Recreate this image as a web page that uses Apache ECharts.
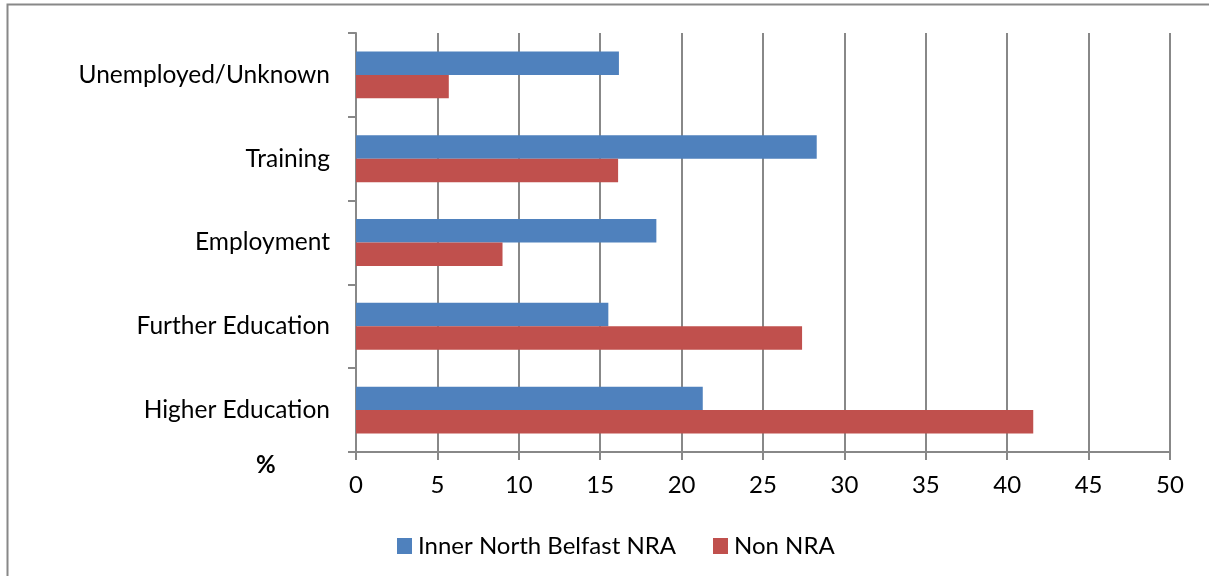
<!DOCTYPE html>
<html>
<head>
<meta charset="utf-8">
<script src="https://cdn.jsdelivr.net/npm/echarts@6/dist/echarts.min.js"></script>
<style>
  html, body { margin: 0; padding: 0; background: #fff; }
  #chart { width: 1209px; height: 576px; }
</style>
</head>
<body>
<div id="chart"></div>
<script>
// categories listed bottom to top, as the category axis draws them
const categories = ['Higher Education', 'Further Education', 'Employment', 'Training', 'Unemployed/Unknown'];
const innerNorth = [21.3, 15.5, 18.45, 28.3, 16.15];
const nonNRA = [41.6, 27.4, 9.0, 16.1, 5.7];
const xTicks = { min: 0, max: 50, interval: 5 };

const chart = echarts.init(document.getElementById('chart'));

const font = 'Lato, "Open Sans", sans-serif';

chart.setOption({
  animation: false,
  textStyle: { fontFamily: font },
  grid: { left: 356, right: 39, top: 33, bottom: 124 },
  legend: {
    top: 529,
    left: 392,
    itemWidth: 15,
    itemHeight: 16,
    itemGap: 37,
    icon: 'rect',
    textStyle: { fontSize: 24, color: '#000', fontFamily: font, padding: [0, 0, 0, 1] },
    data: ['Inner North Belfast NRA', 'Non NRA']
  },
  xAxis: {
    type: 'value',
    min: xTicks.min,
    max: xTicks.max,
    interval: xTicks.interval,
    axisLine: { show: true, lineStyle: { color: '#888', width: 2 } },
    axisTick: { show: true, length: 8, lineStyle: { color: '#888', width: 2 } },
    axisLabel: { fontSize: 24, color: '#000', margin: 21 },
    splitLine: { show: true, lineStyle: { color: '#888', width: 2 } }
  },
  yAxis: {
    type: 'category',
    data: categories,
    axisLine: { show: true, lineStyle: { color: '#888', width: 2 } },
    axisTick: { show: true, length: 8, lineStyle: { color: '#888', width: 2 } },
    axisLabel: { fontSize: 24.5, color: '#000', margin: 26 }
  },
  series: [
    {
      name: 'Inner North Belfast NRA',
      type: 'bar',
      data: innerNorth,
      barGap: '0%',
      barCategoryGap: '44%',
      itemStyle: { color: '#4f81bd' }
    },
    {
      name: 'Non NRA',
      type: 'bar',
      data: nonNRA,
      barGap: '0%',
      barCategoryGap: '44%',
      itemStyle: { color: '#c0504d' }
    }
  ],
  graphic: [
    {
      type: 'rect',
      shape: { x: 7.5, y: 4.5, width: 1400, height: 800 },
      style: { fill: null, stroke: '#888', lineWidth: 2 },
      silent: true
    },
    {
      type: 'text',
      x: 256,
      y: 453,
      style: {
        text: '%',
        fontSize: 24,
        fontWeight: 'bold',
        fontFamily: 'Lato',
        fill: '#000'
      }
    }
  ]
});
</script>
</body>
</html>
